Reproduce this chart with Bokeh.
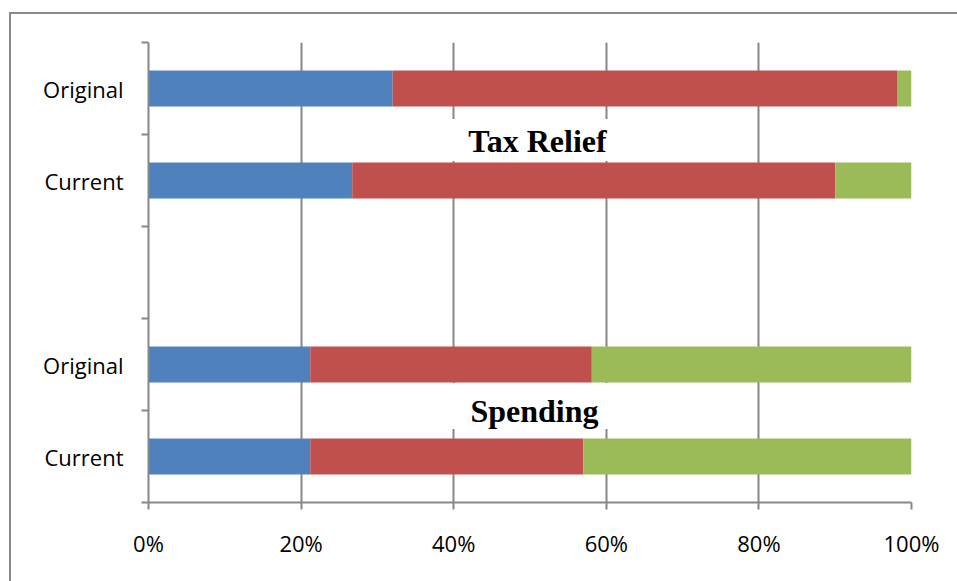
from bokeh.plotting import figure
from bokeh.models import Range1d, FixedTicker, PrintfTickFormatter, Label, ColumnDataSource
from bokeh.embed import file_html
from bokeh.resources import INLINE

# ---- data ----
slot_labels = ["Original", "Current", "", "Original", "Current"]   # top to bottom
bar_slots = [0, 1, 3, 4]                                             # which slot each bar uses
groups = ["Tax Relief", "Tax Relief", "Spending", "Spending"]
series_names = ["Series 1", "Series 2", "Series 3"]
series_1 = [32.0, 26.7, 21.2, 21.2]
series_2 = [66.1, 63.3, 36.9, 35.8]
series_3 = [1.9, 10.0, 41.9, 43.0]
x_ticks = [0, 20, 40, 60, 80, 100]
colors = ["#4F81BD", "#C0504D", "#9BBB59"]

n_slots = len(slot_labels)
ys = [n_slots - s - 0.5 for s in bar_slots]

source = ColumnDataSource(dict(y=ys, s1=series_1, s2=series_2, s3=series_3, group=groups))

GRAY = "#878787"

p = figure(frame_width=763, frame_height=460,
           x_range=Range1d(0, 100), y_range=Range1d(0, n_slots),
           output_backend="svg", toolbar_location=None,
           min_border_left=137, min_border_right=46,
           min_border_top=28, min_border_bottom=79)
p.styles = {"border-left": "2px solid #898989", "border-top": "2px solid #898989",
            "position": "relative", "top": "12px", "left": "9px"}
p.outline_line_color = None
p.background_fill_color = "white"
p.border_fill_color = "white"

p.hbar_stack(["s1", "s2", "s3"], y="y", height=0.39, color=colors, line_color=None,
             source=source)

# grid
p.ygrid.grid_line_color = None
p.xgrid.grid_line_color = GRAY
p.xgrid.grid_line_width = 2
p.xgrid.ticker = FixedTicker(ticks=x_ticks)

# x axis
xa = p.xaxis[0]
xa.ticker = FixedTicker(ticks=x_ticks)
xa.formatter = PrintfTickFormatter(format="%d%%")
xa.axis_line_color = GRAY
xa.axis_line_width = 2
xa.major_tick_line_color = GRAY
xa.major_tick_line_width = 2
xa.major_tick_out = 7
xa.major_tick_in = 0
xa.minor_tick_line_color = None
xa.major_label_text_font = "Open Sans"
xa.major_label_text_font_size = "22px"
xa.major_label_text_color = "black"
xa.major_label_standoff = 18

# y axis
ya = p.yaxis[0]
centers = [n_slots - i - 0.5 for i in range(n_slots)]
ya.ticker = FixedTicker(ticks=[c for c, l in zip(centers, slot_labels) if l],
                        minor_ticks=list(range(n_slots + 1)))
ya.major_label_overrides = {c: l for c, l in zip(centers, slot_labels) if l}
ya.axis_line_color = GRAY
ya.axis_line_width = 2
ya.major_tick_line_color = None
ya.major_tick_out = 0
ya.major_tick_in = 0
ya.minor_tick_line_color = GRAY
ya.minor_tick_line_width = 2
ya.minor_tick_out = 7
ya.minor_tick_in = 0
ya.major_label_text_font = "Open Sans"
ya.major_label_text_font_size = "22px"
ya.major_label_text_color = "black"
ya.major_label_standoff = 18

# group titles (padding order: left, right, top, bottom)
for name, xpos, ypos, pad in [("Tax Relief", 52.36, 3.940, (20, 41, 4, 2)),
                              ("Spending", 50.52, 1.049, (24, 23, 10, 0))]:
    p.add_layout(Label(x=xpos, y=ypos, text=name, text_align="center", text_baseline="middle",
                       text_font="Liberation Serif", text_font_style="bold",
                       text_font_size="32px", text_color="black",
                       background_fill_color="white", padding=pad))

open("out.html", "w").write(file_html(p, INLINE))
